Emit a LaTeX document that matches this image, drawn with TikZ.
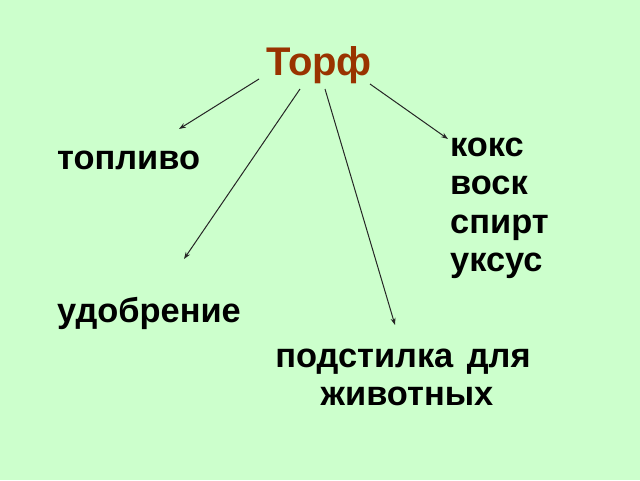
\documentclass[tikz,border=0pt]{standalone}
\usepackage{fontspec}
\setmainfont{Liberation Sans}
\usetikzlibrary{arrows.meta}
\definecolor{bg}{HTML}{CCFFCC}
\definecolor{titlec}{HTML}{993300}
\begin{document}
\begin{tikzpicture}[x=1pt,y=-1pt,
  lbl/.style={anchor=base west,inner sep=0pt,font=\fontsize{34.4}{38}\selectfont\bfseries},
  arr/.style={draw=black!85,line width=1pt,-{Stealth[length=7pt,width=5pt]}}]
\fill[bg] (0,0) rectangle (640,480);
\useasboundingbox (0,0) rectangle (640,480);
\node[anchor=base,inner sep=0pt,text=titlec,font=\fontsize{40}{46}\selectfont\bfseries] (t) at (319,75) {Торф};
\node[lbl] (top) at (57,169) {топливо};
\node[lbl] (ud) at (57,322) {удобрение};
\node[lbl] (kok) at (450,156) {кокс};
\node[lbl] (vos) at (450,194) {воск};
\node[lbl] (spi) at (450,233) {спирт};
\node[lbl] (uks) at (450,271) {уксус};
\node[lbl,anchor=base] (pod) at (403,367) {подстилка\hspace{4pt} для};
\node[lbl,anchor=base] (ziv) at (407,405) {животных};
\coordinate (s1) at (259,79);  \coordinate (e1) at (179,129);
\coordinate (s2) at (300,89);  \coordinate (e2) at (184,259);
\coordinate (s3) at (325,89);  \coordinate (e3) at (395,325);
\coordinate (s4) at (370,84);  \coordinate (e4) at (448,139);
\draw[arr] (s1) -- (e1);
\draw[arr] (s2) -- (e2);
\draw[arr] (s3) -- (e3);
\draw[arr] (s4) -- (e4);
\end{tikzpicture}
\end{document}
